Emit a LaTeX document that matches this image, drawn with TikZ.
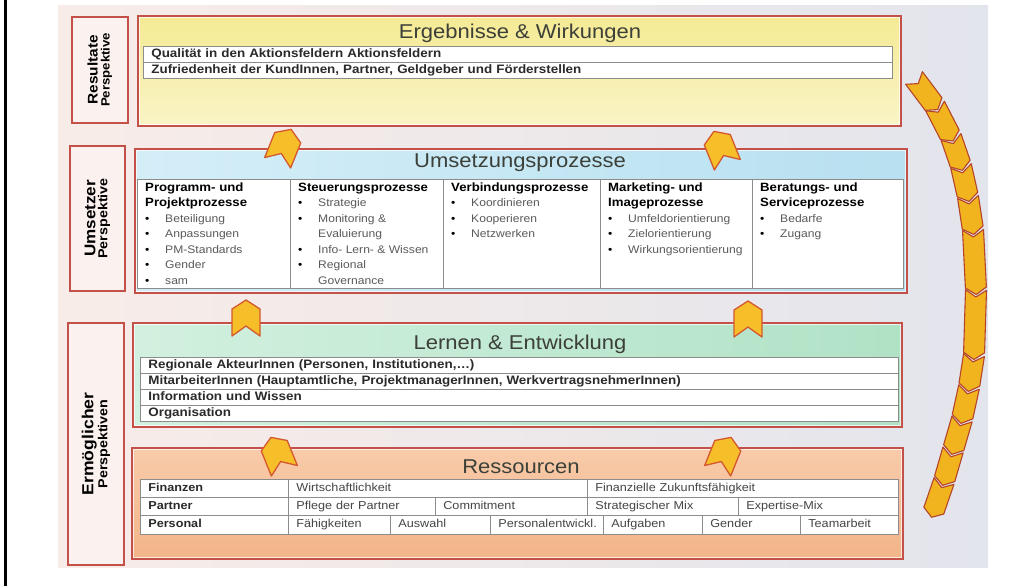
\documentclass[tikz,border=0pt]{standalone}
\usepackage{fontspec}
\setmainfont[FakeStretch=1.1]{Liberation Sans}
\usetikzlibrary{calc}

\definecolor{frame}{HTML}{C4504A}
\definecolor{perspfill}{HTML}{FBF1EE}
\definecolor{ylwA}{HTML}{F4EA94}
\definecolor{ylwB}{HTML}{FAF4C6}
\definecolor{bluA}{HTML}{D4EEF8}
\definecolor{bluB}{HTML}{B8E0F0}
\definecolor{grnA}{HTML}{D2F0DF}
\definecolor{grnB}{HTML}{B0E2C6}
\definecolor{orgA}{HTML}{F8CBAA}
\definecolor{orgB}{HTML}{F3B488}
\definecolor{gridline}{HTML}{8C8C8C}
\definecolor{itemgray}{HTML}{5A5A5A}
\definecolor{chevfill}{HTML}{F6BF2A}
\definecolor{chevline}{HTML}{D4582E}
\definecolor{arcfill}{HTML}{F2B41E}
\definecolor{arcline}{HTML}{B4442A}
\definecolor{bgL}{HTML}{F8ECE8}
\definecolor{bgM}{HTML}{F4F1F1}
\definecolor{bgR}{HTML}{E3E5EC}
\definecolor{titleink}{HTML}{3C4038}
\definecolor{rowink}{HTML}{2A2A2A}
\definecolor{cellink}{HTML}{454545}

% table cell: name, x, y, width, height, text
\newcommand\tcell[7][]{\pgfmathsetmacro\tcw{#5-16}%
  \node[cell,#1,text width=\tcw pt,minimum height=#6pt] (#2) at (#3,#4) {#7};}
% column helpers
\newcommand\colhd[1]{\multicolumn{2}{@{}l@{}}{\fontsize{12}{15.5}\selectfont\bfseries #1}}
\newcommand\colitem[1]{\textbullet & \textcolor{itemgray}{#1}}
\newcommand\colcont[1]{& \textcolor{itemgray}{#1}}
% one segment of the chevron band
\newcommand\arcseg[2]{%
  \coordinate (sa) at (#1);
  \coordinate (sb) at ($(#2)!2.5pt!(#1)$);
  \draw[arcchev] ($(sa)!10.5pt!90:(sb)$) -- ($(sa)!7pt!(sb)$) -- ($(sa)!10.5pt!-90:(sb)$)
    -- ($(sb)!10.5pt!90:(sa)$) -- ($(sb)!-7pt!(sa)$) -- ($(sb)!10.5pt!-90:(sa)$) -- cycle;}

\begin{document}
\begin{tikzpicture}[x=1pt,y=-1pt,
  persp/.style={draw=frame, line width=1.8pt, fill=perspfill, inner sep=0pt, anchor=north west},
  mainbox/.style={draw=frame, line width=2pt, inner sep=0pt, anchor=north west},
  heading/.style={font=\fontsize{20}{24}\selectfont, text=titleink, inner sep=0pt},
  cell/.style={draw=gridline, line width=0.7pt, fill=white, anchor=north west, inner xsep=8pt,
    inner ysep=0pt, align=left, text height=8.6pt, text depth=2.6pt},
  rowtext/.style={font=\fontsize{12.2}{13}\selectfont\bfseries, text=rowink},
  labtext/.style={font=\fontsize{11.5}{13}\selectfont\bfseries, text=rowink},
  valtext/.style={font=\fontsize{11.5}{13}\selectfont, text=cellink},
  colbox/.style={draw=gridline, line width=0.7pt, fill=white, inner sep=0pt, anchor=north west},
  coltext/.style={inner sep=0pt, anchor=north west, font=\fontsize{11}{15.5}\selectfont},
  plabel/.style={rotate=90, align=center, inner sep=0pt},
  chev/.style={fill=chevfill, draw=chevline, line width=1.3pt, line join=round},
  arcchev/.style={fill=arcfill, draw=arcline, line width=1.1pt, line join=round},
  uparrow/.pic={\draw[chev] (0,-19) -- (14,-10) -- (14,17) -- (0,7) -- (-14,17) -- (-14,-10) -- cycle;}
]
\useasboundingbox (0,0) rectangle (1032,586);
\fill[white] (0,0) rectangle (1032,586);
\draw[black, line width=3pt] (5.5,0) -- (5.5,586);
\shade[left color=bgL, middle color=bgM, right color=bgR] (58,6) rectangle (988,567);

% perspective labels
\node[persp, minimum width=56pt, minimum height=106pt] (pres) at (71,16) {};
\node[plabel] (presT) at (pres.center)
  {\fontsize{14}{17}\selectfont\bfseries Resultate\\{\fontsize{12}{14}\selectfont\bfseries Perspektive}};
\node[persp, minimum width=55pt, minimum height=145pt] (pums) at (69,145) {};
\node[plabel] (pumsT) at (pums.center)
  {\fontsize{15.5}{18}\selectfont\bfseries Umsetzer\\{\fontsize{13}{15}\selectfont\bfseries Perspektive}};
\node[persp, minimum width=56pt, minimum height=242pt] (perm) at (67,322) {};
\node[plabel] (permT) at (perm.center)
  {\fontsize{16}{18}\selectfont\bfseries Ermöglicher\\{\fontsize{13}{15}\selectfont\bfseries Perspektiven}};

% main boxes
\node[mainbox, minimum width=763pt, minimum height=110pt, top color=ylwA, bottom color=ylwB] (erg) at (137,15) {};
\node[mainbox, minimum width=772pt, minimum height=144pt, left color=bluA, right color=bluB] (ums) at (134,148) {};
\node[mainbox, minimum width=769pt, minimum height=104pt, left color=grnA, right color=grnB] (lern) at (132,322) {};
\node[mainbox, minimum width=771pt, minimum height=111pt, top color=orgA, bottom color=orgB] (res) at (131,447) {};
\foreach \b in {erg,ums,lern,res}
  \draw[white, line width=0.8pt, opacity=0.7] ([shift={(2.5,2.5)}]\b.north west) rectangle ([shift={(-2.5,-2.5)}]\b.south east);

% headings
\node[heading] (ergT) at (520,33) {Ergebnisse \& Wirkungen};
\node[heading] (umsT) at (520,163) {Umsetzungsprozesse};
\node[heading] (lernT) at (520,344) {Lernen \& Entwicklung};
\node[heading] (resT) at (521,467) {Ressourcen};

% results rows
\tcell[rowtext]{e1}{143}{46}{749}{16}{Qualität in den Aktionsfeldern Aktionsfeldern}
\tcell[rowtext]{e2}{143}{62}{749}{16}{Zufriedenheit der KundInnen, Partner, Geldgeber und Förderstellen}

% process columns
\node[colbox, minimum width=153pt, minimum height=109pt] (cb1) at (137,179) {};
\node[colbox, minimum width=153pt, minimum height=109pt] (cb2) at (290,179) {};
\node[colbox, minimum width=157pt, minimum height=109pt] (cb3) at (443,179) {};
\node[colbox, minimum width=152pt, minimum height=109pt] (cb4) at (600,179) {};
\node[colbox, minimum width=151pt, minimum height=109pt] (cb5) at (752,179) {};
\node[coltext] (ct1) at ([shift={(8,1)}]cb1.north west) {\begin{tabular}{@{}p{20pt}@{}l@{}}
  \colhd{Programm- und}\\ \colhd{Projektprozesse}\\ \colitem{Beteiligung}\\ \colitem{Anpassungen}\\
  \colitem{PM-Standards}\\ \colitem{Gender}\\ \colitem{sam}\end{tabular}};
\node[coltext] (ct2) at ([shift={(8,1)}]cb2.north west) {\begin{tabular}{@{}p{20pt}@{}l@{}}
  \colhd{Steuerungsprozesse}\\ \colitem{Strategie}\\ \colitem{Monitoring \&}\\ \colcont{Evaluierung}\\
  \colitem{Info- Lern- \& Wissen}\\ \colitem{Regional}\\ \colcont{Governance}\end{tabular}};
\node[coltext] (ct3) at ([shift={(8,1)}]cb3.north west) {\begin{tabular}{@{}p{20pt}@{}l@{}}
  \colhd{Verbindungsprozesse}\\ \colitem{Koordinieren}\\ \colitem{Kooperieren}\\ \colitem{Netzwerken}\end{tabular}};
\node[coltext] (ct4) at ([shift={(8,1)}]cb4.north west) {\begin{tabular}{@{}p{20pt}@{}l@{}}
  \colhd{Marketing- und}\\ \colhd{Imageprozesse}\\ \colitem{Umfeldorientierung}\\ \colitem{Zielorientierung}\\
  \colitem{Wirkungsorientierung}\end{tabular}};
\node[coltext] (ct5) at ([shift={(8,1)}]cb5.north west) {\begin{tabular}{@{}p{20pt}@{}l@{}}
  \colhd{Beratungs- und}\\ \colhd{Serviceprozesse}\\ \colitem{Bedarfe}\\ \colitem{Zugang}\end{tabular}};

% learning rows
\tcell[rowtext]{l1}{140}{357}{758}{16}{Regionale AkteurInnen (Personen, Institutionen,…)}
\tcell[rowtext]{l2}{140}{373}{758}{16}{MitarbeiterInnen (Hauptamtliche, ProjektmanagerInnen, WerkvertragsnehmerInnen)}
\tcell[rowtext]{l3}{140}{389}{758}{16}{Information und Wissen}
\tcell[rowtext]{l4}{140}{405}{758}{16}{Organisation}

% resources table
\tcell[labtext]{rf}{140}{479}{148}{18}{Finanzen}
\tcell[valtext]{rf1}{288}{479}{299}{18}{Wirtschaftlichkeit}
\tcell[valtext]{rf2}{587}{479}{311}{18}{Finanzielle Zukunftsfähigkeit}
\tcell[labtext]{rp}{140}{497}{148}{18}{Partner}
\tcell[valtext]{rp1}{288}{497}{147}{18}{Pflege der Partner}
\tcell[valtext]{rp2}{435}{497}{152}{18}{Commitment}
\tcell[valtext]{rp3}{587}{497}{151}{18}{Strategischer Mix}
\tcell[valtext]{rp4}{738}{497}{160}{18}{Expertise-Mix}
\tcell[labtext]{rq}{140}{515}{148}{19}{Personal}
\tcell[valtext]{rq1}{288}{515}{102}{19}{Fähigkeiten}
\tcell[valtext]{rq2}{390}{515}{100}{19}{Auswahl}
\tcell[valtext]{rq3}{490}{515}{113}{19}{Personalentwickl.}
\tcell[valtext]{rq4}{603}{515}{99}{19}{Aufgaben}
\tcell[valtext]{rq5}{702}{515}{98}{19}{Gender}
\tcell[valtext]{rq6}{800}{515}{98}{19}{Teamarbeit}

% upward arrows between the layers
\pic[rotate=-22] (a1) at (284,147) {uparrow};
\pic[rotate=22] (a2) at (721,149) {uparrow};
\pic (a3) at (246,319) {uparrow};
\pic (a4) at (748,320) {uparrow};
\pic[rotate=22] (a5) at (278,455) {uparrow};
\pic[rotate=-22] (a6) at (724,455) {uparrow};

% chevron band on the right
\foreach \i/\x/\y in {0/914/78, 1/935/106, 2/951/137, 3/961/166, 4/968/197, 5/973/230, 6/976/290,
    7/974/355, 8/969/387, 9/962/419, 10/953/450, 11/944/481, 12/933/513}
  \coordinate (q\i) at (\x,\y);
\foreach \i in {0,...,11}{\pgfmathtruncatemacro\j{\i+1}\arcseg{q\i}{q\j}}
\end{tikzpicture}
\end{document}
